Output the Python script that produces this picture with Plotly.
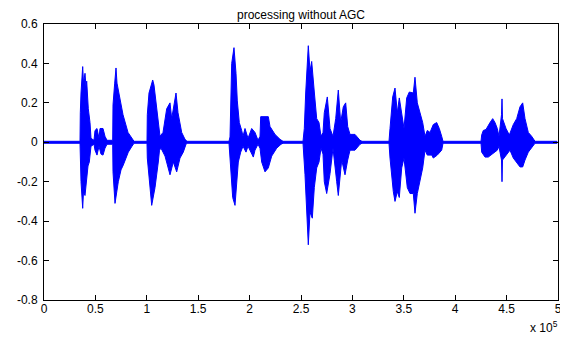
import plotly.graph_objects as go

# Waveform envelope; x in units of 10^5 samples
upper_x = [0, 0.3502, 0.3531, 0.3599, 0.3765, 0.3842, 0.3988, 0.4086, 0.4154, 0.4280, 0.4309, 0.4475, 0.4572, 0.4864,
           0.4961, 0.5156, 0.5350, 0.5447, 0.5739, 0.5934, 0.6128,
           0.6683, 0.6712, 0.6877, 0.7004, 0.7101, 0.7393, 0.7685, 0.8171, 0.8560, 0.8755,
           1.0019, 1.0049, 1.0214, 1.0574, 1.0700, 1.0963, 1.1187,
           1.1284, 1.1576, 1.1936, 1.2257, 1.2422, 1.2840, 1.3035, 1.3395, 1.3716, 1.3911,
           1.7996, 1.8093, 1.8259, 1.8482, 1.8677, 1.8804, 1.8998, 1.9232,
           1.9358, 1.9553, 1.9844, 2.0204, 2.0525, 2.0817,
           2.1012, 2.1080, 2.1333, 2.1819, 2.1984, 2.2471, 2.2957, 2.3249,
           2.5195, 2.5321, 2.5457, 2.5710, 2.5875, 2.6041, 2.6294, 2.6527, 2.6751, 2.6946,
           2.7140, 2.7266, 2.7558, 2.7821, 2.8113,
           2.8376, 2.8628, 2.8862, 2.9115, 2.9348, 2.9543, 2.9767, 3.0253, 3.0739, 3.0934,
           3.3560, 3.3658, 3.3920, 3.4144, 3.4368, 3.4562, 3.4796, 3.5019,
           3.5282, 3.5535, 3.5924, 3.6089, 3.6313, 3.6576, 3.6838, 3.7062,
           3.7286, 3.7549, 3.7870, 3.8200, 3.8453, 3.8687, 3.8813,
           4.2510, 4.2578, 4.2733, 4.2996, 4.3385, 4.3648, 4.3872, 4.4095, 4.4261,
           4.4358, 4.4504, 4.4553, 4.4601, 4.4942, 4.5263, 4.5652, 4.5982, 4.6304, 4.6566, 4.6790, 4.7111, 4.7442,
           4.7597, 4.7763, 4.9903]
upper_y = [0.005, 0.005, 0.15, 0.25, 0.384, 0.30, 0.35, 0.28, 0.31, 0.20, 0.17, 0.10, 0.02, 0.01,
           0.06, 0.07, 0.02, 0.07, 0.07, 0.03, 0.01,
           0.01, 0.19, 0.30, 0.377, 0.30, 0.22, 0.14, 0.05, 0.02, 0.005,
           0.005, 0.14, 0.25, 0.316, 0.29, 0.17, 0.05,
           0.03, 0.05, 0.17, 0.20, 0.12, 0.25, 0.15, 0.05, 0.015, 0.005,
           0.005, 0.027, 0.40, 0.48, 0.35, 0.21, 0.10, 0.06,
           0.03, 0.07, 0.02, 0.07, 0.05, 0.01,
           0.03, 0.13, 0.13, 0.13, 0.08, 0.04, 0.015, 0.005,
           0.005, 0.07, 0.25, 0.49, 0.36, 0.41, 0.255, 0.12, 0.10, 0.03,
           0.05, 0.15, 0.23, 0.07, 0.03,
           0.12, 0.265, 0.10, 0.18, 0.20, 0.08, 0.04, 0.04, 0.01, 0.005,
           0.005, 0.07, 0.23, 0.275, 0.15, 0.225, 0.155, 0.07,
           0.225, 0.255, 0.25, 0.33, 0.20, 0.155, 0.10, 0.03,
           0.06, 0.05, 0.09, 0.10, 0.07, 0.03, 0.005,
           0.005, 0.037, 0.06, 0.065, 0.10, 0.12, 0.10, 0.07, 0.03,
           0.09, 0.14, 0.22, 0.12, 0.07, 0.037, 0.09, 0.12, 0.18, 0.20, 0.12, 0.05, 0.03,
           0.015, 0.005, 0.005]

lower_x = [0, 0.3502, 0.3531, 0.3599, 0.3765, 0.3842, 0.3988, 0.4154, 0.4280, 0.4407, 0.4572, 0.4864,
           0.4961, 0.5156, 0.5350, 0.5545, 0.5739, 0.5934, 0.6128,
           0.6683, 0.6712, 0.6907, 0.7053, 0.7228, 0.7490, 0.7714, 0.8200, 0.8560, 0.8755,
           1.0019, 1.0049, 1.0311, 1.0477, 1.0798, 1.1119, 1.1235,
           1.1381, 1.1770, 1.2257, 1.2578, 1.2909, 1.3230, 1.3550, 1.3813, 1.3911,
           1.7996, 1.8161, 1.8356, 1.8580, 1.8745, 1.8901, 1.9134,
           1.9358, 1.9650, 1.9844, 2.0360, 2.0525, 2.0817,
           2.1012, 2.1177, 2.1498, 2.1819, 2.2150, 2.2636, 2.3054, 2.3249,
           2.5195, 2.5389, 2.5554, 2.5710, 2.5875, 2.6099, 2.6294, 2.6527, 2.6751, 2.6946,
           2.7140, 2.7266, 2.7500, 2.7821, 2.8113,
           2.8473, 2.8628, 2.8959, 2.9280, 2.9543, 2.9767, 3.0253, 3.0739, 3.0934,
           3.3560, 3.3658, 3.3979, 3.4144, 3.4368, 3.4562, 3.4796, 3.5019,
           3.5341, 3.5603, 3.5924, 3.6089, 3.6313, 3.6576, 3.6838, 3.7062,
           3.7286, 3.7714, 3.7870, 3.8259, 3.8687, 3.8813,
           4.2510, 4.2578, 4.2899, 4.3220, 4.3551, 4.3872, 4.4095, 4.4261,
           4.4358, 4.4504, 4.4553, 4.4601, 4.5010, 4.5331, 4.5652, 4.5982, 4.6304, 4.6566, 4.6790, 4.7111, 4.7442,
           4.7597, 4.7763, 4.9903]
lower_y = [-0.005, -0.005, -0.10, -0.20, -0.335, -0.25, -0.27, -0.18, -0.12, -0.10, -0.02, -0.01,
           -0.04, -0.065, -0.02, -0.06, -0.065, -0.03, -0.01,
           -0.01, -0.15, -0.31, -0.25, -0.20, -0.14, -0.115, -0.05, -0.02, -0.005,
           -0.005, -0.08, -0.23, -0.32, -0.23, -0.10, -0.04,
           -0.03, -0.07, -0.165, -0.10, -0.15, -0.08, -0.05, -0.01, -0.005,
           -0.005, -0.10, -0.28, -0.32, -0.19, -0.10, -0.05,
           -0.02, -0.05, -0.02, -0.075, -0.04, -0.01,
           -0.03, -0.10, -0.15, -0.13, -0.07, -0.03, -0.01, -0.005,
           -0.005, -0.165, -0.335, -0.52, -0.355, -0.385, -0.23, -0.13, -0.10, -0.03,
           -0.06, -0.20, -0.26, -0.16, -0.03,
           -0.20, -0.27, -0.09, -0.165, -0.09, -0.04, -0.04, -0.01, -0.005,
           -0.005, -0.08, -0.25, -0.30, -0.25, -0.28, -0.13, -0.08,
           -0.23, -0.26, -0.26, -0.36, -0.26, -0.20, -0.13, -0.04,
           -0.065, -0.065, -0.08, -0.065, -0.04, -0.005,
           -0.005, -0.05, -0.075, -0.075, -0.065, -0.05, -0.04, -0.02,
           -0.05, -0.09, -0.20, -0.09, -0.06, -0.04, -0.08, -0.10, -0.125, -0.125, -0.09, -0.05, -0.03,
           -0.015, -0.005, -0.005]

x_ticks = [0, 0.5, 1, 1.5, 2, 2.5, 3, 3.5, 4, 4.5, 5]
x_tick_text = ["0", "0.5", "1", "1.5", "2", "2.5", "3", "3.5", "4", "4.5", "5"]
y_ticks = [-0.8, -0.6, -0.4, -0.2, 0, 0.2, 0.4, 0.6]
y_tick_text = ["-0.8", "-0.6", "-0.4", "-0.2", "0", "0.2", "0.4", "0.6"]

poly_x = upper_x + lower_x[::-1]
poly_y = upper_y + lower_y[::-1]

fig = go.Figure()
fig.add_trace(go.Scatter(x=poly_x, y=poly_y, mode="lines", fill="toself",
                         fillcolor="#0000FF", line=dict(color="#0000FF", width=1),
                         hoverinfo="skip", showlegend=False))

font = dict(family="Arial, Liberation Sans, sans-serif", size=12, color="black")
axis_common = dict(showline=True, linecolor="black", linewidth=1, mirror="ticks",
                   ticks="inside", ticklen=5, tickcolor="black", tickwidth=1,
                   showgrid=False, zeroline=False, tickfont=font, automargin=False)

# page has an 8px body margin: figure is shrunk/shifted so the plot box lands at 44..558 x 24..300
W, H = 560, 334
ML, MR, MT, MB = 36, 10, 16, 42

fig.update_layout(
    width=W, height=H,
    margin=dict(l=ML, r=MR, t=MT, b=MB, autoexpand=False),
    paper_bgcolor="white", plot_bgcolor="white",
    title=dict(text="processing without AGC", x=(ML + (W - ML - MR) / 2) / W, xanchor="center",
               y=1 - 6.5 / H, yanchor="middle", font=font),
    xaxis=dict(range=[0, 5], tickvals=x_ticks, ticktext=x_tick_text, ticklabelstandoff=-2, **axis_common),
    yaxis=dict(range=[-0.8, 0.6], tickvals=y_ticks, ticktext=y_tick_text, ticklabelstandoff=3, **axis_common),
    annotations=[dict(text="x 10<sup>5</sup>", xref="paper", yref="paper", x=1.004, y=-27 / (H - MT - MB),
                      xanchor="right", yanchor="middle", showarrow=False, font=font)],
)

fig.write_html("out.html")
